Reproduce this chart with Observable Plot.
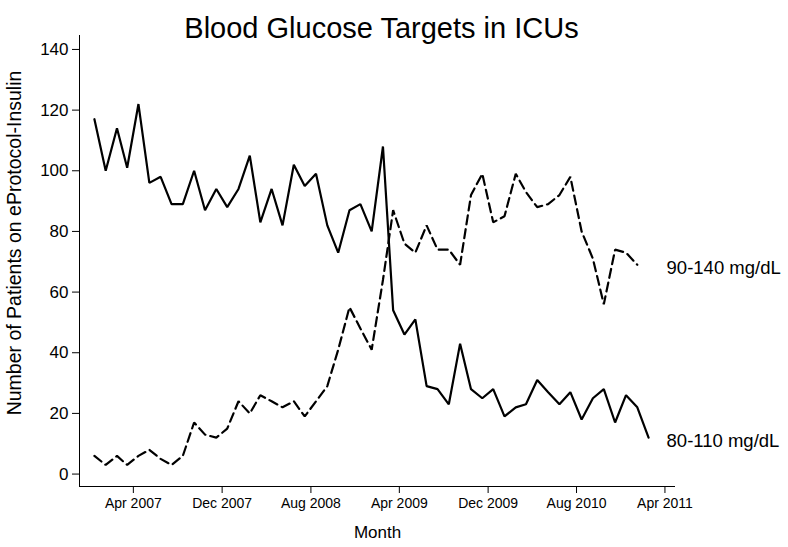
<!DOCTYPE html>
<html><head><meta charset="utf-8">
<script src="https://cdn.jsdelivr.net/npm/d3@7"></script>
<script src="https://cdn.jsdelivr.net/npm/@observablehq/plot@0.6"></script>
<style>body{margin:0;background:#fff;}</style>
</head><body><div id="chart"></div>
<script>
// Monthly observations (Dec 2006 – Feb 2011)
const months = [
  "2006-12","2007-01","2007-02","2007-03","2007-04","2007-05","2007-06","2007-07","2007-08","2007-09","2007-10","2007-11",
  "2007-12","2008-01","2008-02","2008-03","2008-04","2008-05","2008-06","2008-07","2008-08","2008-09","2008-10","2008-11",
  "2008-12","2009-01","2009-02","2009-03","2009-04","2009-05","2009-06","2009-07","2009-08","2009-09","2009-10","2009-11",
  "2009-12","2010-01","2010-02","2010-03","2010-04","2010-05","2010-06","2010-07","2010-08","2010-09","2010-10","2010-11",
  "2010-12","2011-01","2011-02"
];
const target80_110 = [117,100,114,101,122,96,98,89,89,100,87,94,88,94,105,83,94,82,102,95,99,82,73,87,89,80,108,54,46,51,29,28,23,43,28,25,28,19,22,23,31,27,23,27,18,25,28,17,26,22,12];
const target90_140 = [6,3,6,3,6,8,5,3,6,17,13,12,15,24,20,26,24,22,24,19,24,29,41,55,48,41,64,87,76,73,82,74,74,69,92,99,83,85,99,93,88,89,92,98,80,71,56,74,73,69];
const seriesNames = ["80-110 mg/dL", "90-140 mg/dL"];
const xTickMonths = ["2007-04","2007-12","2008-08","2009-04","2009-12","2010-08","2011-04"];
const xTickLabels = ["Apr 2007","Dec 2007","Aug 2008","Apr 2009","Dec 2009","Aug 2010","Apr 2011"];
const yTicks = [0,20,40,60,80,100,120,140];
const titleText = "Blood Glucose Targets in ICUs";
const xLabel = "Month";
const yLabel = "Number of Patients on eProtocol-Insulin";

const toDate = (m, day) => { const [y, mo] = m.split("-").map(Number); return new Date(Date.UTC(y, mo - 1, day)); };
const rows = [];
target80_110.forEach((v, i) => rows.push({date: toDate(months[i], 15), value: v, series: seriesNames[0]}));
target90_140.forEach((v, i) => rows.push({date: toDate(months[i], 15), value: v, series: seriesNames[1]}));
const lastPoints = seriesNames.map(s => rows.filter(r => r.series === s).at(-1));
const lastDate = d3.max(rows, r => r.date);
const tickDates = xTickMonths.map(m => toDate(m, 1));
const tickLabelMap = new Map(tickDates.map((d, i) => [+d, xTickLabels[i]]));

const xDomain = [new Date(Date.UTC(2006, 10, 4)), new Date(Date.UTC(2011, 3, 30))];
const yDomain = [-4.1, 144.6];
const font = "'Liberation Sans', Arial, Helvetica, sans-serif";

const chart = Plot.plot({
  width: 788, height: 547,
  marginLeft: 79, marginRight: 113, marginTop: 35, marginBottom: 61,
  x: {type: "utc", domain: xDomain},
  y: {domain: yDomain},
  style: {fontFamily: font, background: "#fff", color: "#000"},
  marks: [
    Plot.ruleX([xDomain[0]], {stroke: "#000", strokeWidth: 1}),
    Plot.ruleY([yDomain[0]], {stroke: "#000", strokeWidth: 1}),
    Plot.axisY({ticks: yTicks, tickSize: 7, tickPadding: 4, fontSize: 17, label: null, stroke: "#000"}),
    Plot.axisX({ticks: tickDates, tickFormat: d => tickLabelMap.get(+d), tickSize: 7, tickPadding: 5, fontSize: 14, label: null, stroke: "#000"}),
    Plot.lineY(rows.filter(r => r.series === seriesNames[0]), {x: "date", y: "value", stroke: "#000", strokeWidth: 2.2, strokeLinejoin: "miter"}),
    Plot.lineY(rows.filter(r => r.series === seriesNames[1]), {x: "date", y: "value", stroke: "#000", strokeWidth: 2.2, strokeDasharray: "9,5", strokeLinejoin: "miter"}),
    Plot.text(lastPoints, {x: () => lastDate, y: "value", text: "series", textAnchor: "start", dx: 18, dy: 3, fontSize: 18.5, fill: "#000"}),
    Plot.text([titleText], {frameAnchor: "top", dx: 4, dy: -18, fontSize: 29, fill: "#000"}),
    Plot.text([xLabel], {frameAnchor: "bottom", dy: 51, fontSize: 17, fill: "#000"}),
    Plot.text([yLabel], {frameAnchor: "left", textAnchor: "middle", dx: -65, dy: -18, rotate: -90, fontSize: 19.5, fill: "#000"})
  ]
});
document.getElementById("chart").appendChild(chart);
</script>
</body></html>
